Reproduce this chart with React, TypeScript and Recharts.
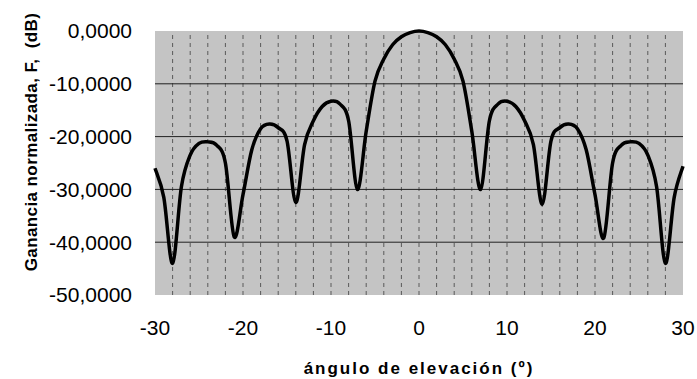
import {
  LineChart,
  Line,
  XAxis,
  YAxis,
  ReferenceLine,
  ReferenceArea,
} from 'recharts'

// Diagrama de radiación normalizado (dB) frente al ángulo de elevación, muestreado cada 1º.

const angles = [
  -30, -29, -28, -27, -26, -25, -24, -23, -22, -21, -20, -19, -18, -17, -16, -15, -14, -13, -12, -11, -10,
  -9, -8, -7, -6, -5, -4, -3, -2, -1, 0, 1, 2, 3, 4, 5, 6, 7, 8, 9, 10, 11, 12, 13, 14, 15, 16, 17, 18, 19,
  20, 21, 22, 23, 24, 25, 26, 27, 28, 29, 30,
]

const gainDb = [
  -26, -31.5, -44, -29.5, -23.5, -21.3, -21, -21.6, -25, -39, -31, -22.5, -18.5, -17.6, -18.3, -20.8, -32.5,
  -21.5, -17, -14.3, -13.3, -13.8, -17, -30, -19, -9.5, -5.3, -2.6, -1.1, -0.3, 0, -0.3, -1.1, -2.6, -5.3,
  -9.5, -19, -30, -17, -13.8, -13.3, -14.3, -17, -21.5, -32.8, -20.8, -18.3, -17.6, -18.5, -22.5, -31, -39.2,
  -25, -21.6, -21, -21.3, -23.5, -29.5, -44, -31.5, -25.6,
]

const xTicks = [-30, -20, -10, 0, 10, 20, 30]
const yTicks = [-50, -40, -30, -20, -10, 0]
const hGridValues = [-40, -30, -20, -10]
const vGridValues = [-28, -26, -24, -22, -20, -18, -16, -14, -12, -10, -8, -6, -4, -2, 0, 2, 4, 6, 8, 10, 12, 14, 16, 18, 20, 22, 24, 26, 28]

const data = angles.map((angle, i) => ({ angle, gain: gainDb[i] }))

const font = '"Liberation Sans", Arial, sans-serif'
const fmt = (v: number) => v.toFixed(4).replace('.', ',')

// línea suavizada tipo Excel (Catmull-Rom), los nulos quedan en V
function smoothCurve(context: any) {
  let pts: number[][] = []
  return {
    areaStart() {},
    areaEnd() {},
    lineStart() {
      pts = []
    },
    point(x: number, y: number) {
      pts.push([+x, +y])
    },
    lineEnd() {
      if (!pts.length) return
      context.moveTo(pts[0][0], pts[0][1])
      for (let i = 0; i < pts.length - 1; i++) {
        const p0 = pts[Math.max(i - 1, 0)]
        const p1 = pts[i]
        const p2 = pts[i + 1]
        const p3 = pts[Math.min(i + 2, pts.length - 1)]
        context.bezierCurveTo(
          p1[0] + (p2[0] - p0[0]) / 6,
          p1[1] + (p2[1] - p0[1]) / 6,
          p2[0] - (p3[0] - p1[0]) / 6,
          p2[1] - (p3[1] - p1[1]) / 6,
          p2[0],
          p2[1],
        )
      }
    },
  }
}

function YTitle({ viewBox }: any) {
  const cx = viewBox.x + 31
  const cy = viewBox.y + viewBox.height / 2 - 21
  return (
    <text
      x={cx}
      y={cy}
      transform={`rotate(-90, ${cx}, ${cy})`}
      textAnchor="middle"
      dominantBaseline="central"
      fontFamily={font}
      fontWeight="bold"
      fontSize={17}
      letterSpacing={0.4}
      fill="#000"
      style={{ whiteSpace: 'pre' }}
    >
      {'Ganancia normalizada, F,  (dB)'}
    </text>
  )
}

function XTitle({ viewBox }: any) {
  return (
    <text
      x={viewBox.x + viewBox.width / 2}
      y={viewBox.y + 79}
      textAnchor="middle"
      fontFamily={font}
      fontWeight="bold"
      fontSize={17}
      letterSpacing={2}
      fill="#000"
    >
      ángulo de elevación (º)
    </text>
  )
}

export default function App() {
  return (
    <div style={{ position: 'absolute', left: 0, top: 0, width: 697, height: 379, background: '#fff' }}>
      <LineChart width={697} height={379} data={data} margin={{ top: 31, right: 14, left: 0, bottom: 0 }}>
        <XAxis
          dataKey="angle"
          type="number"
          domain={[-30, 30]}
          ticks={xTicks}
          axisLine={false}
          tickLine={false}
          tickSize={0}
          tickMargin={25}
          height={84}
          tick={{ fill: '#000', fontSize: 21, fontFamily: font }}
          label={<XTitle />}
        />
        <YAxis
          type="number"
          domain={[-50, 0]}
          ticks={yTicks}
          axisLine={false}
          tickLine={false}
          tickSize={0}
          tickMargin={23}
          width={155}
          tickFormatter={fmt}
          tick={{ fill: '#000', fontSize: 21, fontFamily: font }}
          label={<YTitle />}
        />
        <ReferenceArea x1={-30} x2={30} y1={-50} y2={0} fill="#c4c4c4" fillOpacity={1} stroke="none" />
        {vGridValues.map((v) => (
          <ReferenceLine key={`v${v}`} x={v} stroke="#5a5a5a" strokeWidth={1} strokeDasharray="4 4" />
        ))}
        {hGridValues.map((v) => (
          <ReferenceLine key={`h${v}`} y={v} stroke="#202020" strokeWidth={1} />
        ))}
        <Line
          type={smoothCurve as any}
          dataKey="gain"
          stroke="#000"
          strokeWidth={3.5}
          dot={false}
          isAnimationActive={false}
        />
      </LineChart>
    </div>
  )
}
